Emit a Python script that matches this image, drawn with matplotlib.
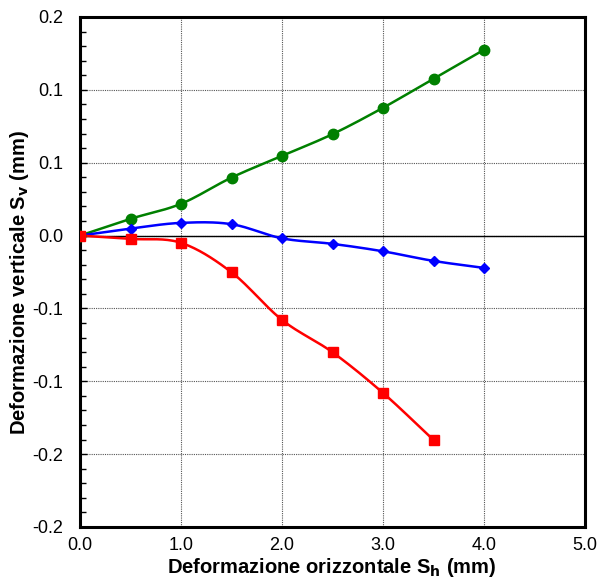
import numpy as np
import matplotlib
matplotlib.use('Agg')
import matplotlib.pyplot as plt
from matplotlib.ticker import FuncFormatter, MultipleLocator
from decimal import Decimal, ROUND_HALF_UP

plt.rcParams['font.family'] = ['Liberation Sans', 'DejaVu Sans']

# data (mm)
x_green = [0.0, 0.5, 1.0, 1.5, 2.0, 2.5, 3.0, 3.5, 4.0]
y_green = [0.0, 0.0115, 0.0218, 0.0398, 0.0547, 0.0696, 0.0877, 0.1076, 0.1275]

x_blue = [0.0, 0.5, 1.0, 1.5, 2.0, 2.5, 3.0, 3.5, 4.0]
y_blue = [0.0, 0.0048, 0.0087, 0.0078, -0.0019, -0.0057, -0.0108, -0.0174, -0.0222]

x_red = [0.0, 0.5, 1.0, 1.5, 2.0, 2.5, 3.0, 3.5]
y_red = [0.0, -0.0023, -0.005, -0.0252, -0.0579, -0.0801, -0.108, -0.1403]


def smooth(x, y, n=20):
    # Catmull-Rom through the points, like a spreadsheet smoothed line
    x = np.asarray(x, float)
    y = np.asarray(y, float)
    px = np.concatenate([[2 * x[0] - x[1]], x, [2 * x[-1] - x[-2]]])
    py = np.concatenate([[2 * y[0] - y[1]], y, [2 * y[-1] - y[-2]]])
    xs, ys = [], []
    t = np.linspace(0, 1, n)
    for i in range(1, len(px) - 2):
        for p, out in ((px, xs), (py, ys)):
            p0, p1, p2, p3 = p[i - 1], p[i], p[i + 1], p[i + 2]
            out.extend(0.5 * (2 * p1 + (-p0 + p2) * t + (2 * p0 - 5 * p1 + 4 * p2 - p3) * t ** 2
                              + (-p0 + 3 * p1 - 3 * p2 + p3) * t ** 3))
    return xs, ys


def fmt1(v, pos):
    v = round(v * 20) / 20
    return str(Decimal(str(v)).quantize(Decimal('0.1'), rounding=ROUND_HALF_UP))


fig = plt.figure(figsize=(5.98, 5.80), dpi=100)
ax = fig.add_axes([0.1338, 0.0914, 0.8445, 0.8793])

ax.grid(True, which='major', color='#555555', linestyle=(0, (1, 1)), linewidth=0.8)
ax.axhline(0, color='black', linewidth=1.0, zorder=2)

for xs, ys, c, m, ms in ((x_green, y_green, 'green', 'o', 7.5),
                         (x_blue, y_blue, 'blue', 'D', 5.5),
                         (x_red, y_red, 'red', 's', 7)):
    sx, sy = smooth(xs, ys)
    ax.plot(sx, sy, color=c, linewidth=1.8, zorder=3)
    ax.plot(xs, ys, linestyle='none', marker=m, markersize=ms, color=c, zorder=4)

ax.set_xlim(0, 5)
ax.set_ylim(-0.20, 0.15)
ax.xaxis.set_major_locator(MultipleLocator(1.0))
ax.yaxis.set_major_locator(MultipleLocator(0.05))
ax.yaxis.set_minor_locator(MultipleLocator(0.01))
ax.xaxis.set_major_formatter(FuncFormatter(lambda v, p: '%.1f' % v))
ax.yaxis.set_major_formatter(FuncFormatter(fmt1))
ax.tick_params(axis='both', which='both', direction='in', labelsize=13)
ax.tick_params(axis='y', which='both', pad=12)
ax.tick_params(axis='x', which='both', pad=7)
ax.tick_params(axis='y', which='minor', length=4, width=1)
ax.tick_params(axis='y', which='major', length=5, width=1)
ax.tick_params(axis='x', which='major', length=0)
for s in ax.spines.values():
    s.set_linewidth(2.2)

ax.set_xlabel('Deformazione orizzontale S$_\\mathbf{h}$ (mm)', fontsize=14.5, fontweight='bold')
ax.set_ylabel('Deformazione verticale S$_\\mathbf{v}$ (mm)', fontsize=14.5, fontweight='bold')
ax.xaxis.set_label_coords(332 / 598, 1 / 580, transform=fig.transFigure)
ax.xaxis.label.set_va('bottom')
ax.yaxis.set_label_coords(20 / 598, 1 - 282 / 580, transform=fig.transFigure)
ax.yaxis.label.set_va('center')

fig.savefig('out.png', dpi=100)
